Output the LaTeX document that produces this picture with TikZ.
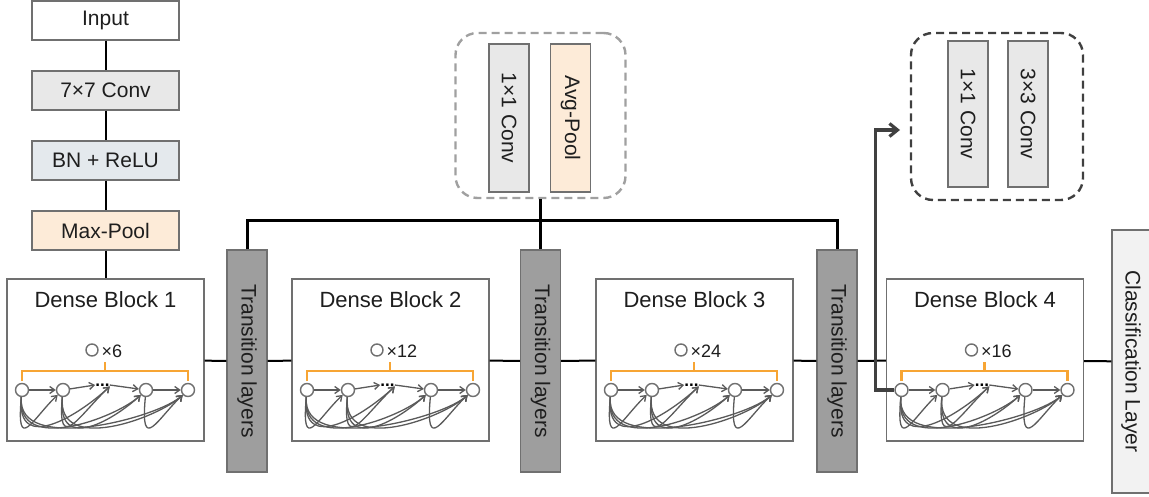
\documentclass[tikz,border=0pt]{standalone}
\usepackage{fontspec}
\setmainfont{Liberation Sans}
\usepackage{graphicx}
\usetikzlibrary{arrows.meta}

\definecolor{boxline}{HTML}{707070}
\definecolor{convgray}{HTML}{E8E8E8}
\definecolor{bnblue}{HTML}{E4E9ED}
\definecolor{poolpeach}{HTML}{FDEBD8}
\definecolor{transgray}{HTML}{9E9E9E}
\definecolor{classgray}{HTML}{F2F2F2}
\definecolor{linkgray}{HTML}{5A5A5A}
\definecolor{braceorange}{HTML}{F7A534}
\definecolor{dashgray}{HTML}{A0A0A0}
\definecolor{dashdark}{HTML}{404040}
\definecolor{txt}{HTML}{1E1E1E}

\tikzset{
  stage/.style={draw=boxline, line width=1.2pt, minimum width=147pt, minimum height=39pt,
    inner sep=0pt, text=txt, font=\fontsize{21}{24}\selectfont},
  block/.style={draw=boxline, line width=1.2pt, minimum width=197pt, minimum height=162pt, fill=white},
  vbar/.style={draw=boxline, line width=1.2pt, minimum width=40pt, inner sep=0pt,
    text=txt, font=\fontsize{21}{24}\selectfont},
  wire/.style={line width=2pt},
  dnode/.style={circle, draw=boxline, line width=1.4pt, fill=white, minimum size=13pt, inner sep=0pt},
  link/.style={draw=linkgray, line width=1.3pt, -{Straight Barb[length=5pt,width=7pt]}},
  bracket/.style={draw=braceorange, line width=2.6pt},
  dashbox/.style={rounded corners=22pt, line width=2.4pt, dash pattern=on 8pt off 5pt},
}

\begin{document}
\begin{tikzpicture}[x=1pt,y=-1pt]
\useasboundingbox (0,0) rectangle (1149,497);

% stem
\node[stage] (input) at (105.5,20.5) {Input};
\node[stage, fill=convgray] (conv7) at (105.5,90.5) {7×7 Conv};
\node[stage, fill=bnblue] (bnrelu) at (105.5,160.5) {BN + ReLU};
\node[stage, fill=poolpeach] (maxpool) at (105.5,230.5) {Max-Pool};

% dense blocks
\foreach \k/\cx/\n in {1/105.5/6, 2/390.5/12, 3/694.5/24, 4/985/16}{
  \node[block] (db\k) at (\cx,360) {};
  \node[text=txt, font=\fontsize{22}{24}\selectfont] (db\k-t) at (\cx,300) {Dense Block \k};
  \node[dnode, minimum size=12pt] (db\k-r) at ({\cx-13.5},350) {};
  \node[anchor=west, inner sep=0pt, text=txt, font=\fontsize{18}{18}\selectfont] (db\k-x) at ({\cx-4},351) {×\n};
  \draw[bracket] ({\cx-83.5},381) |- ({\cx+82.5},371) -- ({\cx+82.5},381);
  \draw[bracket] ({\cx-0.5},371) -- ({\cx-0.5},362);
  \node[dnode] (db\k-a) at ({\cx-83.5},390) {};
  \node[dnode] (db\k-b) at ({\cx-42.5},390) {};
  \node[dnode] (db\k-c) at ({\cx+40.5},390) {};
  \node[dnode] (db\k-d) at ({\cx+82.5},390) {};
  \node[inner sep=0pt, font=\bfseries\fontsize{17}{18}\selectfont] (db\k-m) at ({\cx-3},385) {...};
  \draw[link] (db\k-a) -- (db\k-b);
  \draw[link] (db\k-b) -- (db\k-m.west);
  \draw[link] (db\k-m.east) -- (db\k-c);
  \draw[link] (db\k-c) -- (db\k-d);
  % dense connections swing under the row
  \foreach \s/\t in {a/b,a/c,a/d,b/c,b/d,c/d}
    \draw[link] (db\k-\s) .. controls +(-6,65) and +(-30,28) .. (db\k-\t);
  \draw[link] (db\k-a) .. controls +(-6,65) and +(-30,28) .. (db\k-m.south east);
  \draw[link] (db\k-b) .. controls +(-6,65) and +(-30,28) .. (db\k-m.south east);
}

% transitions and classifier
\foreach \k/\tx in {1/247, 2/540.5, 3/837}
  \node[vbar, fill=transgray, minimum height=222pt] (tr\k) at (\tx,361) {\rotatebox{-90}{Transition layers}};
\node[vbar, fill=classgray, minimum width=38pt, minimum height=263pt] (cls) at (1131,361.5)
  {\rotatebox{-90}{Classification Layer}};

\draw[wire] (input) -- (conv7) -- (bnrelu) -- (maxpool) -- (db1);
\foreach \a/\b in {db1/tr1, tr1/db2, db2/tr2, tr2/db3, db3/tr3, tr3/db4, db4/cls}
  \draw[wire] (\a) -- (\b);

% transition layer detail
\node[dashbox, draw=dashgray, minimum width=170pt, minimum height=165pt] (trgroup) at (540.5,115.5) {};
\node[vbar, fill=convgray, minimum height=148pt] (tconv) at (509,118) {\rotatebox{-90}{1×1 Conv}};
\node[vbar, fill=poolpeach, minimum height=148pt] (tpool) at (570.5,118) {\rotatebox{-90}{Avg-Pool}};

\coordinate (bus) at (540.5,221);
\draw[line width=3pt] (tr1.north) |- (bus) -| (tr3.north);
\draw[line width=3pt] (trgroup.south) -- (tr2.north);

% dense layer detail
\node[dashbox, draw=dashdark, minimum width=172pt, minimum height=167pt] (dlgroup) at (997,116.5) {};
\node[vbar, fill=convgray, minimum height=146pt] (dconv1) at (968,114) {\rotatebox{-90}{1×1 Conv}};
\node[vbar, fill=convgray, minimum height=146pt] (dconv3) at (1028,114) {\rotatebox{-90}{3×3 Conv}};

\coordinate (fbtip) at (900,130);
\draw[line width=3.2pt, draw=dashdark, -{Straight Barb[length=8pt,width=13pt]}]
  (db4-a.west) -- ++(-19,0) |- (fbtip);
\end{tikzpicture}
\end{document}
